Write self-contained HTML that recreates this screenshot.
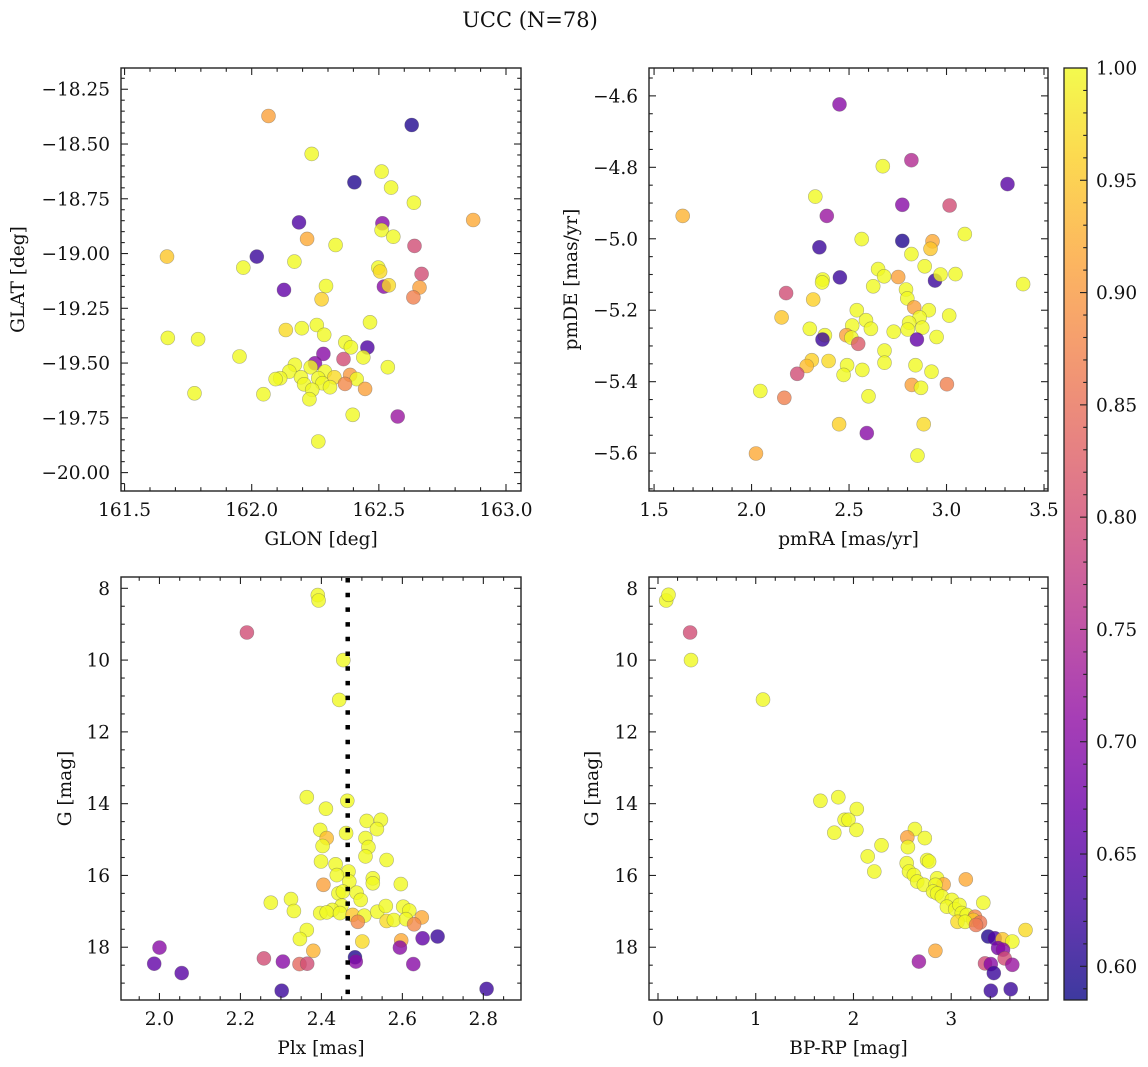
<!DOCTYPE html>
<html><head><meta charset="utf-8">
<style>
html,body{margin:0;padding:0;background:#fff;}
svg{display:block;font-family:"DejaVu Serif","Liberation Serif",serif;}
</style></head>
<body>
<svg id="fig" width="1148" height="1067" viewBox="0 0 1148 1067" xmlns="http://www.w3.org/2000/svg">
<rect width="1148" height="1067" fill="#fff"/>
<text x="530" y="27" font-size="21" text-anchor="middle" fill="#111">UCC (N=78)</text>
</svg>
<script>
// ---- Panel 1: GLON vs GLAT ----
const glonVals=[162.066,162.629,162.236,162.511,162.404,162.548,162.638,162.871,162.186,162.514,162.511,162.557,162.218,162.330,162.640,161.667,162.020,162.168,161.967,162.498,162.505,162.668,162.127,162.292,162.520,162.539,162.660,162.636,162.275,162.465,161.670,161.789,162.134,162.197,162.256,162.285,162.368,162.390,162.455,161.952,162.282,162.361,162.439,162.535,162.170,162.249,162.232,162.148,162.288,162.387,162.112,162.094,162.194,162.262,162.325,162.413,162.367,162.206,162.278,162.308,162.238,162.446,161.775,162.046,162.227,162.397,162.574,162.262];
const glatVals=[-18.372,-18.413,-18.545,-18.626,-18.675,-18.699,-18.768,-18.847,-18.858,-18.862,-18.893,-18.923,-18.933,-18.961,-18.965,-19.014,-19.014,-19.037,-19.064,-19.064,-19.082,-19.093,-19.166,-19.148,-19.151,-19.145,-19.155,-19.200,-19.209,-19.314,-19.385,-19.391,-19.349,-19.341,-19.326,-19.371,-19.405,-19.428,-19.429,-19.470,-19.458,-19.482,-19.474,-19.519,-19.508,-19.501,-19.519,-19.539,-19.539,-19.554,-19.569,-19.573,-19.565,-19.569,-19.565,-19.573,-19.595,-19.597,-19.592,-19.610,-19.622,-19.618,-19.638,-19.642,-19.665,-19.736,-19.744,-19.858];
const probP1=[0.91,0.6,1,1,0.6,1,1,0.92,0.64,0.7,1,1,0.92,1,0.8,0.95,0.62,1,1,1,0.97,0.8,0.66,1,0.7,0.97,0.91,0.87,0.96,1,1,1,0.97,1,1,1,1,1,0.64,1,0.7,0.8,1,1,1,0.7,1,1,1,0.9,1,1,1,1,0.97,1,0.88,1,1,1,1,0.91,1,1,1,1,0.72,1];
// ---- Panel 2: pmRA vs pmDE ----
const pmraVals=[2.451,2.820,2.673,3.313,2.327,1.647,2.773,3.016,2.386,2.565,2.773,2.928,2.918,3.094,2.348,2.820,2.888,2.649,2.680,2.752,2.453,2.365,2.362,2.941,2.969,3.046,3.393,2.624,2.177,2.792,2.799,2.316,2.834,2.909,2.540,3.014,2.154,2.587,2.516,2.862,2.808,2.612,2.299,2.876,2.801,2.729,2.376,2.364,2.486,2.512,2.848,2.949,2.547,2.682,2.682,2.309,2.283,2.395,2.490,2.472,2.568,2.234,2.841,2.923,2.822,2.869,3.002,2.045,2.168,2.600,2.449,2.591,2.883,2.023,2.851];
const pmdeVals=[-4.624,-4.780,-4.797,-4.847,-4.882,-4.936,-4.905,-4.907,-4.936,-5.001,-5.006,-5.007,-5.028,-4.987,-5.024,-5.043,-5.077,-5.085,-5.105,-5.107,-5.108,-5.114,-5.122,-5.117,-5.100,-5.099,-5.127,-5.133,-5.152,-5.142,-5.167,-5.170,-5.192,-5.200,-5.200,-5.215,-5.220,-5.228,-5.243,-5.220,-5.235,-5.252,-5.252,-5.249,-5.254,-5.260,-5.270,-5.282,-5.270,-5.277,-5.282,-5.275,-5.294,-5.313,-5.347,-5.340,-5.356,-5.342,-5.354,-5.381,-5.367,-5.378,-5.354,-5.372,-5.409,-5.417,-5.407,-5.426,-5.445,-5.441,-5.519,-5.544,-5.519,-5.601,-5.607];
const probP2=[0.7,0.75,1,0.65,1,0.93,0.7,0.8,0.72,1,0.6,0.92,0.95,1,0.62,1,1,1,1,0.91,0.62,1,1,0.62,1,1,1,1,0.8,1,1,0.96,0.91,1,1,1,0.95,1,1,1,1,1,1,1,1,1,1,0.62,0.91,1,0.66,1,0.82,1,1,0.96,0.94,0.97,1,1,1,0.8,1,1,0.91,1,0.87,1,0.87,1,0.96,0.7,0.97,0.92,1];
// ---- Panel 3: Plx vs G ----
const plxVals=[2.391,2.393,2.216,2.454,2.444,2.364,2.411,2.464,2.512,2.547,2.537,2.397,2.413,2.461,2.509,2.516,2.403,2.509,2.399,2.561,2.435,2.467,2.438,2.527,2.469,2.527,2.596,2.405,2.487,2.442,2.453,2.497,2.325,2.275,2.332,2.450,2.427,2.397,2.413,2.446,2.477,2.506,2.538,2.559,2.602,2.617,2.561,2.579,2.609,2.490,2.648,2.629,2.364,2.347,2.687,2.650,2.501,2.597,2.0,2.594,2.380,2.258,1.987,2.305,2.346,2.365,2.483,2.485,2.627,2.055,2.302,2.808];
const gPlxVals=[8.19,8.34,9.23,10.00,11.11,13.82,14.14,13.92,14.48,14.45,14.71,14.73,14.96,14.82,14.96,15.21,15.18,15.47,15.61,15.57,15.69,15.89,15.99,16.08,16.17,16.22,16.24,16.26,16.48,16.50,16.45,16.68,16.66,16.76,16.99,16.84,16.96,17.05,17.03,17.05,17.10,17.12,17.01,16.85,16.87,16.98,17.27,17.24,17.22,17.29,17.17,17.36,17.52,17.77,17.70,17.75,17.84,17.81,18.01,18.01,18.10,18.31,18.46,18.40,18.47,18.46,18.28,18.40,18.47,18.72,19.21,19.16];
const probP3=[1,1,0.8,1,1,1,1,1,1,1,1,1,0.94,1,1,1,1,1,1,1,1,1,1,1,1,1,1,0.91,1,1,1,1,1,1,1,1,1,1,1,1,0.95,1,1,1,1,1,0.97,1,1,0.88,0.92,0.88,1,1,0.62,0.66,0.97,0.92,0.7,0.7,0.93,0.8,0.66,0.7,0.84,0.8,0.6,0.7,0.7,0.65,0.62,0.62];
const plxRef=2.465;
// ---- Panel 4: BP-RP vs G ----
const bprpVals=[0.084,0.108,0.328,0.338,1.074,1.662,1.845,2.034,1.909,1.949,1.804,2.030,2.287,2.628,2.551,2.730,2.557,2.145,2.753,2.774,2.213,2.544,2.568,2.618,2.652,2.855,2.922,3.149,2.720,2.838,2.814,2.855,2.905,3.007,3.328,2.956,3.041,3.084,3.108,3.159,3.243,3.226,3.064,3.142,3.294,3.253,3.760,3.378,3.446,3.524,3.625,3.480,3.530,2.838,2.669,3.345,3.405,3.547,3.625,3.436,3.405,3.608];
const gCmdVals=[8.34,8.18,9.23,10.00,11.10,13.92,13.82,14.15,14.45,14.45,14.81,14.73,15.16,14.71,14.94,14.96,15.21,15.47,15.57,15.61,15.89,15.66,15.89,15.99,16.17,16.08,16.25,16.11,16.26,16.26,16.45,16.50,16.59,16.68,16.76,16.87,16.94,16.82,17.05,17.10,17.15,17.24,17.29,17.29,17.31,17.38,17.52,17.70,17.75,17.78,17.84,18.02,18.07,18.10,18.40,18.45,18.47,18.31,18.49,18.72,19.21,19.17];
const probP4=[1,1,0.8,1,1,1,1,1,1,1,1,1,1,1,0.91,1,1,1,1,1,1,1,1,1,1,1,0.92,0.92,1,1,1,1,1,1,1,1,1,1,1,1,0.88,0.95,0.97,1,0.86,0.86,0.97,0.6,0.64,0.95,1,0.68,0.7,0.92,0.72,0.8,0.7,0.8,0.72,0.62,0.62,0.62];
// ---- Colorbar ----
const cbTicks=[0.60,0.65,0.70,0.75,0.80,0.85,0.90,0.95,1.00];
const cbMin=0.585, cbMax=1.0;

const NS="http://www.w3.org/2000/svg";
const svg=document.getElementById('fig');
const TFS=18.5, LFS=18.5;
function mk(tag,attrs,parent){const e=document.createElementNS(NS,tag);for(const k in attrs)e.setAttribute(k,attrs[k]);(parent||svg).appendChild(e);return e;}
const stops=[[0,13,8,135],[0.1,65,4,157],[0.2,106,0,168],[0.3,143,13,164],[0.4,177,42,144],[0.5,204,71,120],[0.6,225,100,98],[0.7,242,132,75],[0.8,252,166,54],[0.9,252,206,37],[1,240,249,33]];
function plasma(t){t=Math.max(0,Math.min(1,t));for(let i=1;i<stops.length;i++){if(t<=stops[i][0]){const a=stops[i-1],b=stops[i];const f=(t-a[0])/(b[0]-a[0]);return 'rgb('+[1,2,3].map(j=>Math.round(a[j]+(b[j]-a[j])*f)).join(',')+')';}}return 'rgb(240,249,33)';}
function colorOf(p){return plasma((p-cbMin)/(cbMax-cbMin));}
function fmtMinus(s){return s.replace('-','\u2212');}

function panel(cfg){
  const {L,R,T,B,x0,x1,y0,y1}=cfg;
  const sx=v=>L+(v-x0)/(x1-x0)*(R-L);
  const sy=v=>T+(v-y0)/(y1-y0)*(B-T);
  const g=mk('g',{});
  
  
  const cid='clip-'+cfg.name;
  const cp=mk('clipPath',{id:cid},g);mk('rect',{x:L,y:T,width:R-L,height:B-T},cp);
  const pts=mk('g',{'clip-path':'url(#'+cid+')'},g);
  for(let i=0;i<cfg.xs.length;i++){
    const c=mk('circle',{cx:sx(cfg.xs[i]).toFixed(1),cy:sy(cfg.ys[i]).toFixed(1),r:7,fill:colorOf(cfg.ps[i]),'fill-opacity':0.8,stroke:'#555','stroke-opacity':0.45,'stroke-width':0.6},pts);
    
    
  }
  if(cfg.vline!==undefined){
    const l=mk('line',{x1:sx(cfg.vline),x2:sx(cfg.vline),y1:T+1,y2:B,stroke:'#000','stroke-width':4.5,'stroke-dasharray':'4.5 10.2'},g);
    
    
  }
  const tk=mk('g',{stroke:'#222','stroke-width':1.1},g);
  for(let v=Math.ceil(x0/cfg.xmin-1e-6)*cfg.xmin; v<=x1+1e-9; v+=cfg.xmin){
    const maj=Math.abs(v/cfg.xmaj-Math.round(v/cfg.xmaj))<1e-4;const len=maj?7:3.8;const X=sx(v);
    mk('line',{x1:X,x2:X,y1:B,y2:B-len},tk);mk('line',{x1:X,x2:X,y1:T,y2:T+len},tk);
  }
  for(let v=Math.ceil(Math.min(y0,y1)/cfg.ymin-1e-6)*cfg.ymin; v<=Math.max(y0,y1)+1e-9; v+=cfg.ymin){
    const maj=Math.abs(v/cfg.ymaj-Math.round(v/cfg.ymaj))<1e-4;const len=maj?7:3.8;const Y=sy(v);
    mk('line',{x1:L,x2:L+len,y1:Y,y2:Y},tk);mk('line',{x1:R,x2:R-len,y1:Y,y2:Y},tk);
  }
  mk('rect',{x:L,y:T,width:R-L,height:B-T,fill:'none',stroke:'#222','stroke-width':1.4},g);
  cfg.xticks.forEach(v=>{const t=mk('text',{x:sx(v),y:B+25,'font-size':TFS,'text-anchor':'middle',fill:'#111'},g);t.textContent=fmtMinus(v.toFixed(cfg.xdec));
    });
  cfg.yticks.forEach(v=>{const t=mk('text',{x:L-11,y:sy(v)+6.5,'font-size':TFS,'text-anchor':'end',fill:'#111'},g);t.textContent=fmtMinus(v.toFixed(cfg.ydec));
    });
  const xl=mk('text',{x:(L+R)/2,y:B+54,'font-size':LFS,'text-anchor':'middle',fill:'#111'},g);xl.textContent=cfg.xlabel;
  
  const yl=mk('text',{x:0,y:0,'font-size':LFS,'text-anchor':'middle',fill:'#111',transform:'translate('+cfg.ylx+','+(T+B)/2+') rotate(-90)'},g);yl.textContent=cfg.ylabel;
  
}

panel({name:'panel-glon-glat',L:121,R:521,T:68,B:491,x0:161.486,x1:163.059,y0:-18.153,y1:-20.084,xs:glonVals,ys:glatVals,ps:probP1,
  xmaj:0.5,xmin:0.1,ymaj:0.25,ymin:0.05,xticks:[161.5,162.0,162.5,163.0],xdec:1,yticks:[-18.25,-18.5,-18.75,-19.0,-19.25,-19.5,-19.75,-20.0],ydec:2,xlabel:'GLON [deg]',ylabel:'GLAT [deg]',ylx:24});
panel({name:'panel-pmra-pmde',L:649,R:1048,T:68,B:491,x0:1.474,x1:3.5205,y0:-4.522,y1:-5.706,xs:pmraVals,ys:pmdeVals,ps:probP2,
  xmaj:0.5,xmin:0.1,ymaj:0.2,ymin:0.05,xticks:[1.5,2.0,2.5,3.0,3.5],xdec:1,yticks:[-4.6,-4.8,-5.0,-5.2,-5.4,-5.6],ydec:1,xlabel:'pmRA [mas/yr]',ylabel:'pmDE [mas/yr]',ylx:577});
panel({name:'panel-plx-g',L:121,R:521,T:577,B:1000,x0:1.905,x1:2.893,y0:7.685,y1:19.47,xs:plxVals,ys:gPlxVals,ps:probP3,vline:plxRef,
  xmaj:0.2,xmin:0.05,ymaj:2,ymin:0.5,xticks:[2.0,2.2,2.4,2.6,2.8],xdec:1,yticks:[8,10,12,14,16,18],ydec:0,xlabel:'Plx [mas]',ylabel:'G [mag]',ylx:71});
panel({name:'panel-cmd',L:649,R:1048,T:577,B:1000,x0:-0.092,x1:3.99,y0:7.685,y1:19.47,xs:bprpVals,ys:gCmdVals,ps:probP4,
  xmaj:1,xmin:0.2,ymaj:2,ymin:0.5,xticks:[0,1,2,3],xdec:0,yticks:[8,10,12,14,16,18],ydec:0,xlabel:'BP-RP [mag]',ylabel:'G [mag]',ylx:598});

// colorbar
(function(){
  const L=1064,R=1087,T=68,B=1000;
  const sy=v=>B-(v-cbMin)/(cbMax-cbMin)*(B-T);
  const g=mk('g',{});
  
  
  const defs=mk('defs',{},g);
  const lg=mk('linearGradient',{id:'cbgrad',x1:0,y1:1,x2:0,y2:0},defs);
  for(let i=0;i<=20;i++){mk('stop',{offset:i/20,'stop-color':plasma(i/20)},lg);}
  mk('rect',{x:L,y:T,width:R-L,height:B-T,fill:'url(#cbgrad)','fill-opacity':0.8},g);
  const tk=mk('g',{stroke:'#222','stroke-width':1.1},g);
  for(let v=0.59; v<=1.0001; v+=0.01){const maj=Math.abs(v*20-Math.round(v*20))<1e-4;mk('line',{x1:R,x2:R-(maj?7:3.8),y1:sy(v),y2:sy(v)},tk);}
  mk('rect',{x:L,y:T,width:R-L,height:B-T,fill:'none',stroke:'#222','stroke-width':1.3},g);
  cbTicks.forEach(v=>{const t=mk('text',{x:R+9,y:sy(v)+6.5,'font-size':TFS,fill:'#111'},g);t.textContent=v.toFixed(2);
    });
})();
</script>
</body></html>
